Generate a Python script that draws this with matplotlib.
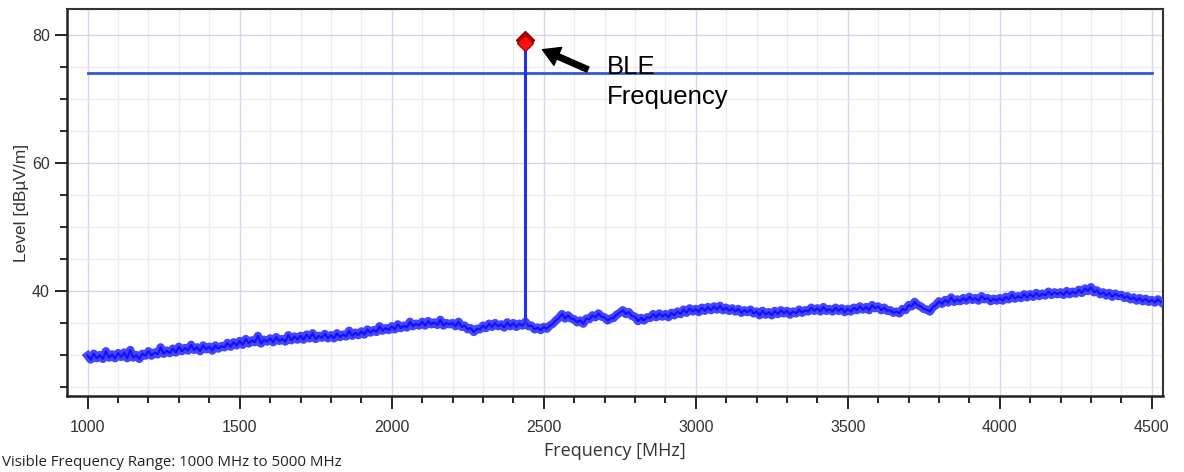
import numpy as np
import matplotlib
matplotlib.use('Agg')
import matplotlib.pyplot as plt
from matplotlib.ticker import MultipleLocator

#------------- Dados --------------------
freq_start = 1000
freq_step = 10
level = [
    29.9, 29.3, 30.2, 29.5, 30.0, 29.4, 30.6, 29.6, 30.1, 29.5,
    30.3, 29.7, 30.4, 29.5, 30.8, 29.6, 30.0, 29.4, 30.2, 29.9,
    30.6, 29.9, 30.4, 30.1, 31.2, 30.2, 30.7, 30.3, 31.0, 30.4,
    31.3, 30.6, 31.1, 30.7, 31.6, 30.8, 31.2, 30.6, 31.5, 30.9,
    31.3, 30.7, 31.5, 31.0, 31.4, 31.2, 31.9, 31.3, 32.0, 31.5,
    32.2, 31.6, 32.5, 31.8, 32.3, 32.0, 33.0, 31.8, 32.4, 32.1,
    32.6, 32.0, 32.8, 32.2, 32.5, 32.1, 33.1, 32.3, 32.9, 32.4,
    33.0, 32.4, 33.2, 32.6, 33.4, 32.5, 33.0, 32.7, 33.3, 32.6,
    33.1, 32.6, 33.4, 32.8, 33.2, 32.9, 33.8, 33.0, 33.5, 33.1,
    33.7, 33.2, 34.0, 33.5, 33.9, 33.6, 34.5, 33.8, 34.2, 33.9,
    34.5, 34.0, 34.8, 34.2, 34.6, 34.3, 35.2, 34.5, 34.9, 34.6,
    35.2, 34.6, 35.3, 34.8, 35.1, 34.7, 35.5, 34.6, 35.0, 34.8,
    35.0, 34.5, 35.2, 34.4, 34.6, 34.0, 34.2, 33.6, 34.1, 34.0,
    34.6, 34.2, 34.9, 34.4, 35.0, 34.5, 34.8, 34.3, 35.1, 34.5,
    35.0, 34.4, 34.9, 34.6, 35.2, 34.5, 34.6, 34.0, 34.3, 33.9,
    34.4, 34.1, 34.6, 34.9, 35.4, 35.8, 36.4, 35.7, 36.2, 35.7,
    35.6, 35.1, 35.4, 34.9, 35.7, 35.6, 36.2, 35.9, 36.5, 36.0,
    35.9, 35.4, 35.7, 35.8, 36.3, 36.6, 37.0, 36.4, 36.7, 36.1,
    36.0, 35.3, 35.8, 35.4, 35.9, 35.8, 36.4, 35.9, 36.5, 36.0,
    36.4, 35.9, 36.6, 36.2, 36.8, 36.4, 37.1, 36.6, 37.3, 36.8,
    37.2, 36.7, 37.4, 36.9, 37.5, 37.0, 37.6, 37.1, 37.7, 37.0,
    37.4, 36.9, 37.3, 36.8, 37.2, 36.6, 37.0, 36.7, 37.1, 36.5,
    36.8, 36.2, 36.9, 36.3, 36.7, 36.2, 36.9, 36.4, 37.0, 36.5,
    36.9, 36.3, 36.8, 36.5, 37.1, 36.6, 37.0, 36.8, 37.4, 36.9,
    37.3, 36.8, 37.5, 36.9, 37.2, 36.8, 37.4, 36.9, 37.3, 36.7,
    37.2, 36.8, 37.4, 37.0, 37.6, 37.1, 37.5, 37.0, 37.8, 37.3,
    37.6, 37.0, 37.4, 36.9, 37.0, 36.6, 36.8, 36.5, 37.2, 37.0,
    37.8, 37.6, 38.3, 37.8, 37.6, 37.2, 37.1, 36.8, 37.5, 37.8,
    38.4, 38.0, 38.6, 38.2, 39.0, 38.3, 38.7, 38.4, 38.9, 38.5,
    39.1, 38.6, 38.9, 38.5, 39.2, 38.7, 38.9, 38.4, 38.8, 38.5,
    38.9, 38.5, 39.1, 38.7, 39.4, 38.8, 39.2, 38.9, 39.5, 39.0,
    39.5, 39.1, 39.7, 39.2, 39.6, 39.3, 39.9, 39.4, 39.8, 39.5,
    39.8, 39.4, 40.0, 39.5, 39.9, 39.6, 40.2, 39.7, 40.4, 40.0,
    40.6, 39.8, 40.1, 39.5, 39.8, 39.3, 39.7, 39.1, 39.6, 39.2,
    39.4, 38.9, 39.2, 38.7, 39.0, 38.5, 38.9, 38.4, 38.8, 38.3,
    38.6, 38.2, 38.7, 38.3,
]
freq = freq_start + freq_step * np.arange(len(level))

limit_freq = [1000, 4500]
limit_level = [74, 74]

peak_freq = 2440
peak_base = 34.8
peak_level = 78.9

x_ticks = [1000, 1500, 2000, 2500, 3000, 3500, 4000, 4500]
y_ticks = [40, 60, 80]

#------------- Figura --------------------
fig = plt.figure(figsize=(11.84, 4.72), dpi=100)
ax = fig.add_axes([0.0566, 0.161, 0.9257, 0.820])

# grade
ax.xaxis.set_minor_locator(MultipleLocator(100))
ax.yaxis.set_minor_locator(MultipleLocator(5))
ax.grid(which='major', color='#d4d4ec', linewidth=1.0)
ax.grid(which='minor', color='#ececf3', linewidth=1.0)
ax.set_axisbelow(True)

# curvas
ax.plot(limit_freq, limit_level, color='#3557d6', linewidth=2.0, zorder=3)
ax.plot(freq, level, color='#4545ff', linewidth=6.0,
        solid_joinstyle='round', zorder=4)
ax.plot(freq, level, color='#1010ff', linewidth=1.5, zorder=4)
ax.vlines(peak_freq, peak_base, peak_level, color='#2233e6', linewidth=2.2, zorder=4)
ax.plot([peak_freq], [peak_level + 0.3], marker='D', markersize=9,
        markerfacecolor='#c00000', markeredgecolor='#800000', zorder=5)
ax.plot([peak_freq], [peak_level - 0.1], marker='D', markersize=8,
        markerfacecolor='#ff1010', markeredgecolor='#b00000', zorder=6)

# seta + texto
ax.annotate('', xy=(2496, 77.7), xytext=(2645, 74.6),
            arrowprops=dict(facecolor='black', edgecolor='black', width=4,
                            headwidth=14, headlength=12, shrink=0),
            zorder=7)
ax.text(2708, 76.8, 'BLE\nFrequency', fontsize=18.5, family='Liberation Sans',
        va='top', ha='left', color='black', linespacing=1.3)

# eixos
ax.set_xlim(932, 4537)
ax.set_ylim(23.6, 84.06)
ax.set_xticks(x_ticks)
ax.set_yticks(y_ticks)
ax.tick_params(which='major', direction='out', length=9, width=1.2,
               labelsize=11.5, colors='black', labelcolor='#333333')
ax.tick_params(which='minor', direction='out', length=5, width=1.2, colors='black')
ax.tick_params(axis='x', pad=8)
for lab in ax.get_xticklabels() + ax.get_yticklabels():
    lab.set_family('Liberation Sans')

for s in ['left', 'bottom']:
    ax.spines[s].set_linewidth(1.8)
    ax.spines[s].set_color('#222222')
for s in ['top', 'right']:
    ax.spines[s].set_linewidth(1.5)
    ax.spines[s].set_color('#333333')

ax.set_xlabel('Frequency [MHz]', fontsize=13, family='Open Sans', color='#333333', labelpad=5)
ax.set_ylabel('Level [dBµV/m]', fontsize=12.5, family='Liberation Sans', color='#333333', labelpad=2)

fig.text(0.002, 0.012, 'Visible Frequency Range: 1000 MHz to 5000 MHz',
         fontsize=10.8, family='Open Sans', color='#222222', ha='left', va='baseline')

fig.savefig('out.png', dpi=100)
